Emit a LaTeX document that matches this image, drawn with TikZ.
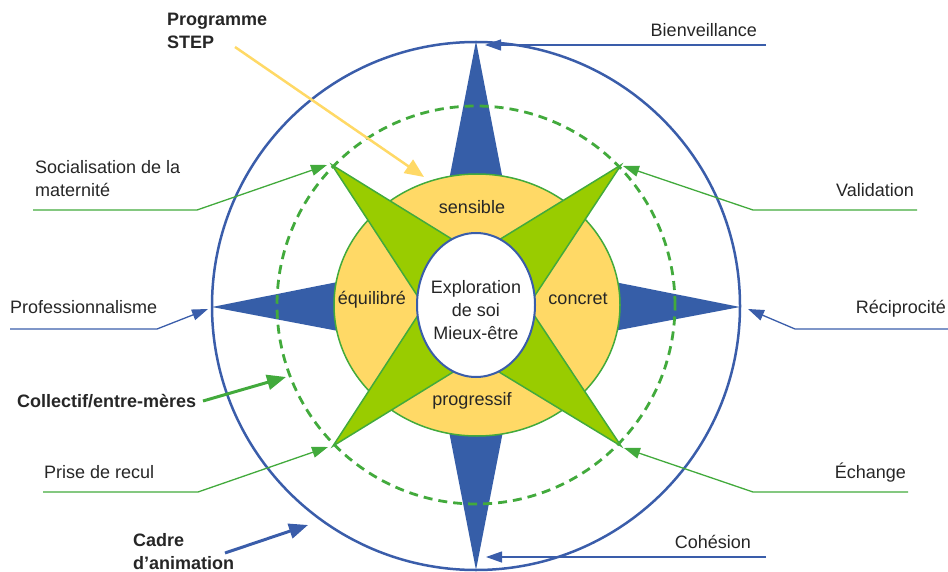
\documentclass[tikz,border=0pt]{standalone}
\usepackage{fontspec}
\setmainfont{Liberation Sans}
\usetikzlibrary{arrows.meta,shapes.geometric}
\definecolor{cblue}{HTML}{3A5DAA}
\definecolor{cbluefill}{HTML}{365EA8}
\definecolor{cgreen}{HTML}{42AA3C}
\definecolor{cgfill}{HTML}{99CC00}
\definecolor{cyel}{HTML}{FFD966}
\definecolor{ctext}{HTML}{262626}
\begin{document}
\begin{tikzpicture}[x=1pt,y=-1pt,
  lbl/.style={font=\fontsize{18}{23}\selectfont, text=ctext, inner sep=0pt},
  blbl/.style={font=\fontsize{18}{23}\selectfont\bfseries, text=ctext, inner sep=0pt},
  thinarrow/.style={line width=1.3pt, -{Triangle[length=16pt,width=11pt]}},
  thickarrow/.style={line width=3pt, -{Triangle[length=19pt,width=15pt]}},
  bconn/.style={thinarrow, draw=cblue},
  gconn/.style={thinarrow, draw=cgreen}]
\useasboundingbox (0,0) rectangle (948,572);
% outer circle
\draw[cblue, line width=2.5pt] (476,306) circle [radius=264pt];
% blue star
\fill[cbluefill] (476,41) -- (519,263) -- (740,307) -- (519,349) -- (476,570) -- (433,349) -- (212,307) -- (433,263) -- cycle;
% dashed circle
\draw[cgreen, line width=2.8pt, dash pattern=on 9pt off 6pt] (476,305) circle [radius=199pt];
% yellow ellipse
\draw[fill=cyel, draw=cgreen, line width=1.5pt] (477,305) ellipse [x radius=143pt, y radius=131pt];
% green star
\filldraw[fill=cgfill, draw=cgreen, line width=1.5pt, line join=miter]
  (332,165) -- (476,254) -- (621,165) -- (528,306) -- (621,446) -- (476,358) -- (333,446) -- (424,306) -- cycle;
% core ellipse
\node[ellipse, draw=cblue, fill=white, line width=2pt, minimum width=118pt, minimum height=144pt, inner sep=0pt] (core) at (476,305) {};
\node[lbl, align=center] (coretext) at (476,310.5) {Exploration\\de soi\\Mieux-être};
% ring labels
\node[lbl, anchor=base] (sens) at (472,214) {sensible};
\node[lbl, anchor=base] (equi) at (372,305) {équilibré};
\node[lbl, anchor=base] (conc) at (578,305) {concret};
\node[lbl, anchor=base] (prog) at (472,405) {progressif};
% outside labels
\node[blbl, anchor=north west, align=left] (step) at (167,13) {Programme\\STEP};
\node[lbl, anchor=base east] (bien) at (757,36.5) {Bienveillance};
\node[lbl, anchor=north west, align=left] (soc) at (35,160) {Socialisation de la\\maternité};
\node[lbl, anchor=base east] (vali) at (914,196.5) {Validation};
\node[lbl, anchor=base west] (prof) at (10,313.5) {Professionnalisme};
\node[lbl, anchor=base east] (reci) at (946,313.5) {Réciprocité};
\node[blbl, anchor=base west] (coll) at (17,407.5) {Collectif/entre-mères};
\node[lbl, anchor=base west] (prise) at (44,478) {Prise de recul};
\node[lbl, anchor=base east] (echa) at (906,478) {Échange};
\node[blbl, anchor=north west, align=left] (cadre) at (133,533) {Cadre\\d’animation};
\node[lbl, anchor=base east] (cohe) at (751,548) {Cohésion};
% connector coordinates
\coordinate (bienA) at (766,45);   \coordinate (bienT) at (485,45);
\coordinate (coheA) at (766,557);  \coordinate (coheT) at (486,557);
\coordinate (reciA) at (948,329);  \coordinate (reciB) at (795,329); \coordinate (reciT) at (748,309);
\coordinate (profA) at (10,329);   \coordinate (profB) at (157,329); \coordinate (profT) at (208,309);
\coordinate (valiA) at (917,210);  \coordinate (valiB) at (753,210); \coordinate (valiT) at (623,166);
\coordinate (echaA) at (908,492);  \coordinate (echaB) at (753,492); \coordinate (echaT) at (624,448);
\coordinate (socA) at (33,210);    \coordinate (socB) at (197,210);  \coordinate (socT) at (327,165);
\coordinate (priseA) at (43,492);  \coordinate (priseB) at (198,492); \coordinate (priseT) at (328,447);
\coordinate (collA) at (203,401);  \coordinate (collT) at (286,377);
\coordinate (cadreA) at (225,553); \coordinate (cadreT) at (308,525);
\coordinate (stepA) at (235,47);   \coordinate (stepT) at (424,177);
% connectors
\draw[bconn] (bienA) -- (bienT);
\draw[bconn] (coheA) -- (coheT);
\draw[bconn] (reciA) -- (reciB) -- (reciT);
\draw[bconn] (profA) -- (profB) -- (profT);
\draw[gconn] (valiA) -- (valiB) -- (valiT);
\draw[gconn] (echaA) -- (echaB) -- (echaT);
\draw[gconn] (socA) -- (socB) -- (socT);
\draw[gconn] (priseA) -- (priseB) -- (priseT);
\draw[thickarrow, draw=cgreen] (collA) -- (collT);
\draw[thickarrow, draw=cblue] (cadreA) -- (cadreT);
\draw[line width=2.5pt, draw=cyel, -{Triangle[length=19pt,width=16pt]}] (stepA) -- (stepT);
\end{tikzpicture}
\end{document}
